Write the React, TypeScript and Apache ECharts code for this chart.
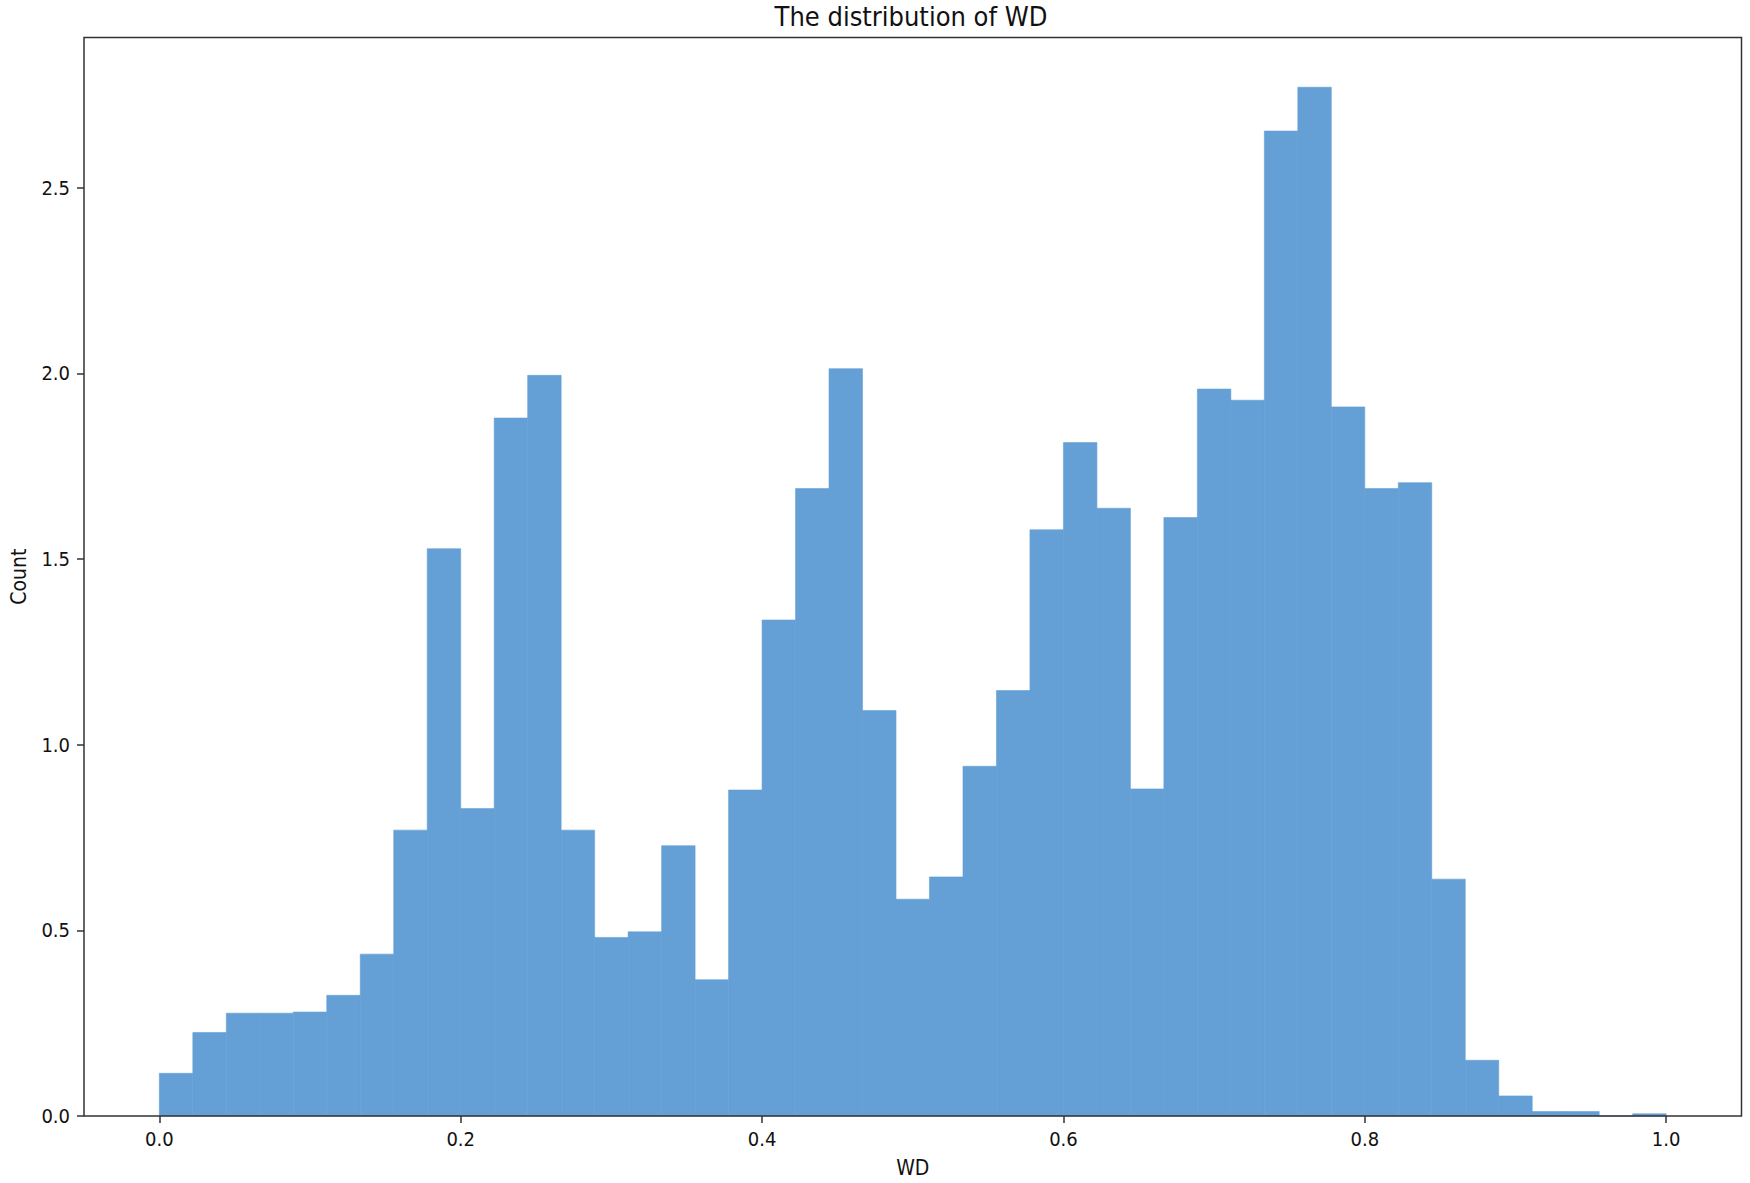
import React, { useEffect, useRef } from "react";
import * as echarts from "echarts";

// Histogram of WD: 45 equal bins from 0 to 1
const binStart = 0;
const binEnd = 1;
const counts = [
  0.115, 0.225, 0.277, 0.277, 0.28, 0.325, 0.436, 0.77, 1.528, 0.828,
  1.88, 1.995, 0.77, 0.481, 0.496, 0.728, 0.367, 0.878, 1.336, 1.69,
  2.013, 1.092, 0.584, 0.644, 0.942, 1.146, 1.579, 1.814, 1.637, 0.881,
  1.612, 1.958, 1.928, 2.653, 2.771, 1.91, 1.69, 1.706, 0.638, 0.15,
  0.054, 0.012, 0.012, 0, 0.006,
];
const xTicks = [0, 0.2, 0.4, 0.6, 0.8, 1.0];
const yTicks = [0, 0.5, 1.0, 1.5, 2.0, 2.5];
const titleText = "The distribution of WD";
const xName = "WD";
const yName = "Count";

const FONT = "'DejaVu Sans Condensed', 'DejaVu Sans', sans-serif";
const BAR = "#649fd5";

export default function App() {
  const ref = useRef<HTMLDivElement>(null);
  useEffect(() => {
    if (!ref.current) return;
    const chart = echarts.init(ref.current, undefined, { renderer: "svg" });
    const n = counts.length;
    const w = (binEnd - binStart) / n;
    const data = counts.map((c, i) => [binStart + i * w, binStart + (i + 1) * w, c]);
    chart.setOption({
      animation: false,
      backgroundColor: "#ffffff",
      title: {
        text: titleText,
        left: 911,
        top: 3,
        textAlign: "center",
        padding: 0,
        textStyle: { fontFamily: FONT, fontSize: 27, fontWeight: "normal", color: "#111" },
      },
      grid: {
        left: 80,
        right: 8.5,
        top: 37.5,
        bottom: 67,
        show: true,
        borderColor: "#333",
        borderWidth: 1.5,
        backgroundColor: "transparent",
        containLabel: false,
        z: 5,
      },
      xAxis: {
        type: "value",
        min: -0.05,
        max: 1.05,
        name: xName,
        nameLocation: "middle",
        nameGap: 41,
        nameTextStyle: { fontFamily: FONT, fontSize: 21, color: "#111" },
        axisLine: { show: false, onZero: false },
        splitLine: { show: false },
        axisTick: {
          show: true,
          customValues: xTicks,
          length: 7,
          lineStyle: { color: "#333", width: 1.5 },
        },
        axisLabel: {
          customValues: xTicks,
          margin: 13,
          fontFamily: FONT,
          fontSize: 20,
          color: "#111",
          formatter: (v: number) => v.toFixed(1),
        },
      },
      yAxis: {
        type: "value",
        min: 0,
        max: 2.905,
        name: yName,
        nameLocation: "middle",
        nameGap: 55,
        nameTextStyle: { fontFamily: FONT, fontSize: 21, color: "#111" },
        axisLine: { show: false, onZero: false },
        splitLine: { show: false },
        axisTick: {
          show: true,
          customValues: yTicks,
          length: 7,
          lineStyle: { color: "#333", width: 1.5 },
        },
        axisLabel: {
          customValues: yTicks,
          margin: 14,
          fontFamily: FONT,
          fontSize: 20,
          color: "#111",
          formatter: (v: number) => v.toFixed(1),
        },
      },
      series: [
        {
          type: "custom",
          data,
          encode: { x: [0, 1], y: 2 },
          renderItem: (params: any, api: any) => {
            const x0 = api.value(0);
            const x1 = api.value(1);
            const h = api.value(2);
            const p0 = api.coord([x0, h]);
            const p1 = api.coord([x1, 0]);
            return {
              type: "rect",
              shape: { x: p0[0], y: p0[1], width: p1[0] - p0[0], height: p1[1] - p0[1] },
              style: { fill: BAR, stroke: BAR, lineWidth: 0.6 },
            };
          },
        },
      ],
    });
    return () => chart.dispose();
  }, []);
  return (
    <div
      ref={ref}
      style={{ position: "fixed", left: 0, top: 0, width: 1750, height: 1183 }}
    />
  );
}
